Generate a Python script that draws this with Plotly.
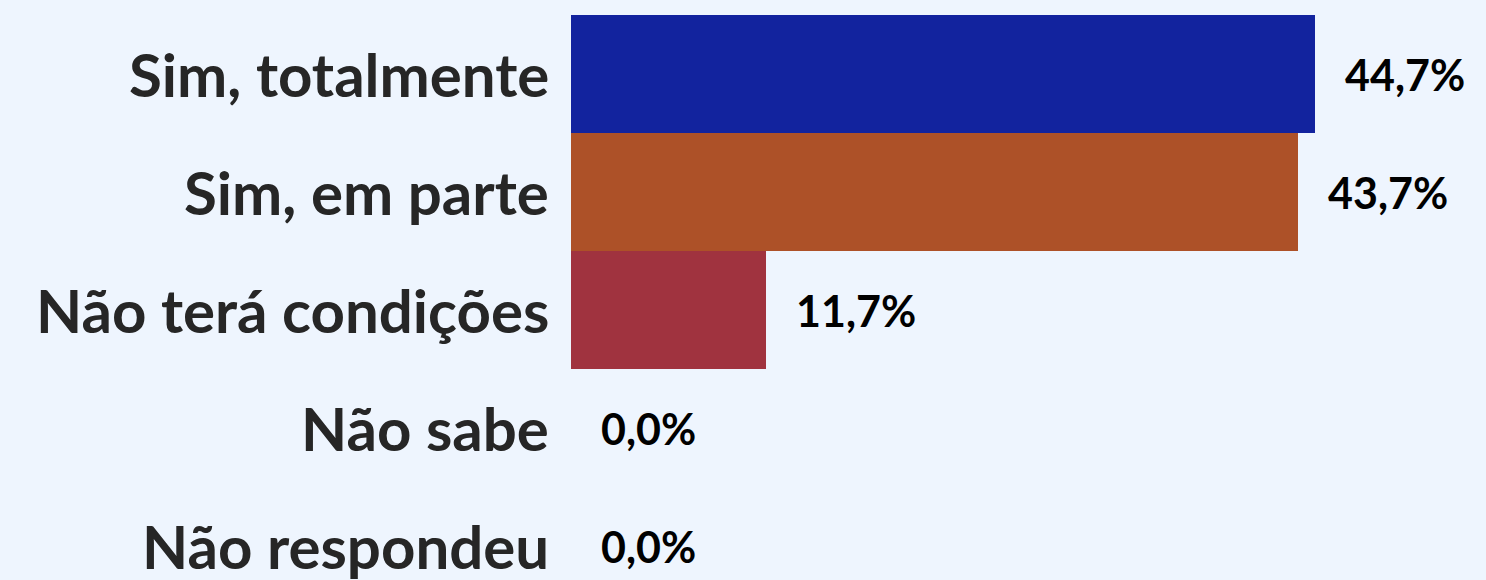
import plotly.graph_objects as go

categories = ["Sim, totalmente", "Sim, em parte", "Não terá condições", "Não sabe", "Não respondeu"]
values = [44.7, 43.7, 11.7, 0.0, 0.0]
value_labels = ["44,7%", "43,7%", "11,7%", "0,0%", "0,0%"]
colors = ["#12239E", "#AD5128", "#A0333F", "#12239E", "#12239E"]

ypos = list(range(len(categories)))

fig = go.Figure()
fig.add_trace(go.Bar(
    x=values, y=ypos, orientation="h",
    marker=dict(color=colors, line=dict(width=0)),
    width=1.0, hoverinfo="skip",
))

for v, y, t in zip(values, ypos, value_labels):
    fig.add_annotation(x=v, y=y, text=t, showarrow=False, xanchor="left", yanchor="middle",
                       xshift=28,
                       font=dict(family="Lato", size=43, color="#000000", weight="bold"))

for y, c in zip(ypos, categories):
    fig.add_annotation(x=0, xref="paper", y=y, yref="y", text=c, showarrow=False,
                       xanchor="right", yanchor="middle", xshift=-20,
                       font=dict(family="Lato", size=60, color="#262626", weight="bold"))

fig.update_layout(
    width=1486, height=580,
    margin=dict(l=571, r=0, t=15, b=0),
    paper_bgcolor="#EEF5FE", plot_bgcolor="#EEF5FE",
    showlegend=False, bargap=0,
    xaxis=dict(range=[0, 55], visible=False, fixedrange=True),
    yaxis=dict(range=[4.288, -0.5], showticklabels=False,
               showgrid=False, zeroline=False, showline=False, ticks="", fixedrange=True),
)

fig.write_html("out.html", config={"displayModeBar": False, "staticPlot": True},
               post_script="document.body.style.margin='0';document.body.style.padding='0';document.body.style.background='#EEF5FE';document.body.style.overflow='hidden';")
